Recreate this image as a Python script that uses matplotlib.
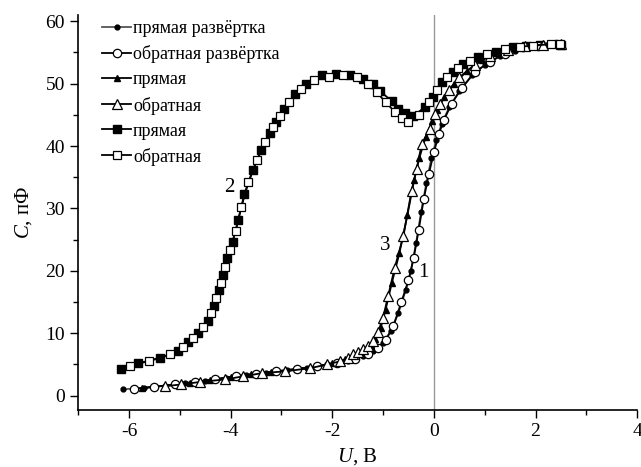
import matplotlib
matplotlib.use("Agg")
import matplotlib.pyplot as plt
from matplotlib.ticker import MultipleLocator

# Curve 1: прямая / обратная развёртка (circles)
x1f = [-6.12, -5.7, -5.3, -4.9, -4.5, -4.1, -3.7, -3.3, -2.9, -2.5, -2.1, -1.7, -1.4, -1.2, -1.0,
       -0.85, -0.7, -0.55, -0.45, -0.35, -0.25, -0.15, -0.05, 0.05, 0.15, 0.3, 0.5, 0.75, 1.0, 1.3,
       1.6, 1.9, 2.2, 2.5]
y1f = [1.0, 1.3, 1.6, 2.0, 2.4, 2.9, 3.3, 3.7, 4.1, 4.5, 5.0, 5.6, 6.3, 7.2, 8.4,
       10.3, 13.2, 17.0, 20.0, 24.5, 29.5, 34.0, 38.0, 41.0, 43.5, 46.2, 48.8, 51.3, 53.0, 54.4,
       55.3, 55.9, 56.2, 56.3]
x1o = [-5.9, -5.5, -5.1, -4.7, -4.3, -3.9, -3.5, -3.1, -2.7, -2.3, -1.9, -1.55, -1.3, -1.1, -0.95,
       -0.8, -0.64, -0.5, -0.4, -0.3, -0.2, -0.1, 0.0, 0.1, 0.2, 0.35, 0.55, 0.8, 1.1, 1.4,
       1.75, 2.05, 2.4]
y1o = [1.1, 1.4, 1.8, 2.2, 2.6, 3.1, 3.5, 3.9, 4.3, 4.7, 5.2, 5.9, 6.7, 7.7, 8.9,
       11.1, 15.0, 18.5, 22.0, 26.5, 31.5, 35.5, 39.0, 42.0, 44.2, 46.8, 49.3, 51.8, 53.5, 54.8,
       55.8, 56.1, 56.3]

# Curve 3: triangles
x3f = [-5.75, -5.1, -4.8, -4.4, -4.0, -3.6, -3.2, -2.7, -2.3, -2.0, -1.75, -1.55, -1.45, -1.34,
       -1.24, -1.15, -1.05, -0.95, -0.83, -0.68, -0.52, -0.39, -0.29, -0.16, -0.03, 0.07, 0.2,
       0.4, 0.65, 0.95, 1.3, 1.6, 2.0, 2.35]
y3f = [1.2, 1.8, 2.1, 2.5, 3.0, 3.4, 3.8, 4.2, 4.7, 5.2, 5.8, 6.5, 6.9, 7.4,
       8.0, 9.0, 10.8, 13.8, 18.0, 22.8, 29.0, 34.5, 38.0, 41.5, 44.0, 45.8, 47.8,
       50.0, 52.0, 53.8, 55.0, 55.7, 56.1, 56.3]
x3o = [-5.3, -4.97, -4.6, -4.11, -3.75, -3.39, -2.93, -2.44, -2.1, -1.85, -1.7, -1.59, -1.49,
       -1.39, -1.29, -1.19, -1.1, -1.0, -0.9, -0.77, -0.6, -0.44, -0.34, -0.24, -0.08, 0.02,
       0.12, 0.3, 0.5, 0.8, 1.1, 1.45, 1.8, 2.15, 2.5]
y3o = [1.5, 1.8, 2.2, 2.6, 3.1, 3.6, 3.9, 4.4, 5.0, 5.5, 6.0, 6.6, 7.0,
       7.4, 8.0, 8.7, 10.2, 12.5, 16.0, 20.5, 25.6, 32.8, 36.3, 40.3, 42.7, 45.1,
       46.7, 49.0, 51.0, 53.0, 54.5, 55.4, 56.0, 56.2, 56.4]

# Curve 2: squares
x2f = [-6.15, -5.82, -5.39, -5.03, -4.84, -4.64, -4.45, -4.33, -4.23, -4.15, -4.08, -3.96, -3.85,
       -3.73, -3.56, -3.4, -3.23, -3.11, -2.95, -2.74, -2.51, -2.21, -1.92, -1.65, -1.39, -1.19,
       -1.06, -0.83, -0.70, -0.57, -0.41, -0.18, -0.01, 0.15, 0.38, 0.58, 0.87, 1.23, 1.56, 1.82,
       2.09, 2.51]
y2f = [4.3, 5.2, 6.0, 7.1, 8.6, 10.1, 12.0, 14.4, 16.9, 19.4, 22.1, 24.6, 28.2,
       32.3, 36.2, 39.3, 42.1, 43.9, 46.0, 48.3, 49.9, 51.3, 51.5, 51.4, 50.7, 49.9,
       48.8, 47.2, 45.9, 45.3, 44.8, 46.2, 47.8, 50.2, 51.8, 53.1, 54.2, 55.1, 55.8, 56.1,
       56.2, 56.2]
x2o = [-5.98, -5.6, -5.2, -4.94, -4.74, -4.55, -4.38, -4.28, -4.19, -4.12, -4.02, -3.9, -3.79,
       -3.65, -3.48, -3.32, -3.17, -3.03, -2.85, -2.62, -2.36, -2.07, -1.78, -1.52, -1.3, -1.12,
       -0.95, -0.77, -0.63, -0.5, -0.3, -0.1, 0.07, 0.26, 0.48, 0.72, 1.05, 1.4, 1.7, 1.95,
       2.3, 2.48]
y2o = [4.7, 5.6, 6.6, 7.8, 9.3, 11.0, 13.2, 15.6, 18.0, 20.6, 23.3, 26.4, 30.2,
       34.2, 37.8, 40.7, 43.0, 44.8, 47.0, 49.1, 50.6, 51.1, 51.3, 51.0, 50.0, 48.6,
       47.0, 45.5, 44.5, 43.8, 45.0, 47.0, 49.0, 51.0, 52.5, 53.6, 54.7, 55.5, 55.9, 56.1,
       56.3, 56.4]

labels = ["прямая развёртка", "обратная развёртка", "прямая", "обратная", "прямая", "обратная"]

plt.rcParams['font.family'] = ['Liberation Serif', 'DejaVu Serif']
plt.rcParams['mathtext.fontset'] = 'custom'
plt.rcParams['mathtext.it'] = 'Liberation Serif:italic'
plt.rcParams['mathtext.rm'] = 'Liberation Serif'
plt.rcParams['axes.unicode_minus'] = False

fig = plt.figure(figsize=(6.41, 4.67), dpi=100)
ax = fig.add_axes([0.122, 0.122, 0.872, 0.846])

ax.axvline(0, color='#999999', lw=1.0, zorder=1)

lw = 1.3
ax.plot(x1f, y1f, '-', color='#555555', lw=lw, marker='o', ms=3.5, mfc='black', mec='black', label=labels[0], zorder=3)
ax.plot(x1o, y1o, '-', color='black', lw=lw, marker='o', ms=6, mfc='white', mec='black', mew=0.9, label=labels[1], zorder=4)
ax.plot(x3f, y3f, '-', color='black', lw=lw, marker='^', ms=4.5, mfc='black', mec='black', label=labels[2], zorder=3)
ax.plot(x3o, y3o, '-', color='black', lw=lw, marker='^', ms=6.5, mfc='white', mec='black', mew=0.9, label=labels[3], zorder=4)
ax.plot(x2f, y2f, '-', color='black', lw=lw, marker='s', ms=5.2, mfc='black', mec='black', label=labels[4], zorder=3)
ax.plot(x2o, y2o, '-', color='black', lw=lw, marker='s', ms=5.2, mfc='white', mec='black', mew=0.9, label=labels[5], zorder=4)

ax.set_xlim(-7, 4)
ax.set_ylim(-2.3, 61)
ax.xaxis.set_major_locator(MultipleLocator(2))
ax.xaxis.set_minor_locator(MultipleLocator(1))
ax.yaxis.set_major_locator(MultipleLocator(10))
ax.yaxis.set_minor_locator(MultipleLocator(5))
ax.tick_params(which='major', direction='out', length=6, width=1, labelsize=14)
ax.tick_params(which='minor', direction='out', length=3.5, width=1)
ax.spines['top'].set_visible(False)
ax.spines['right'].set_visible(False)
for s in ('left', 'bottom'):
    ax.spines[s].set_linewidth(1.2)

ax.set_xlabel(r'$U$, В', fontsize=15, labelpad=4)
ax.set_ylabel(r'$C$, пФ', fontsize=15, labelpad=8)

ax.text(-4.02, 33.3, '2', fontsize=15, ha='center', va='center')
ax.text(-0.96, 24.0, '3', fontsize=15, ha='center', va='center')
ax.text(-0.2, 19.8, '1', fontsize=15, ha='center', va='center')

leg = ax.legend(loc='upper left', bbox_to_anchor=(0.03, 1.005), frameon=False, fontsize=13,
                handlelength=1.6, handletextpad=0.1, labelspacing=0.45, borderaxespad=0)

fig.savefig('out.png', dpi=100)
